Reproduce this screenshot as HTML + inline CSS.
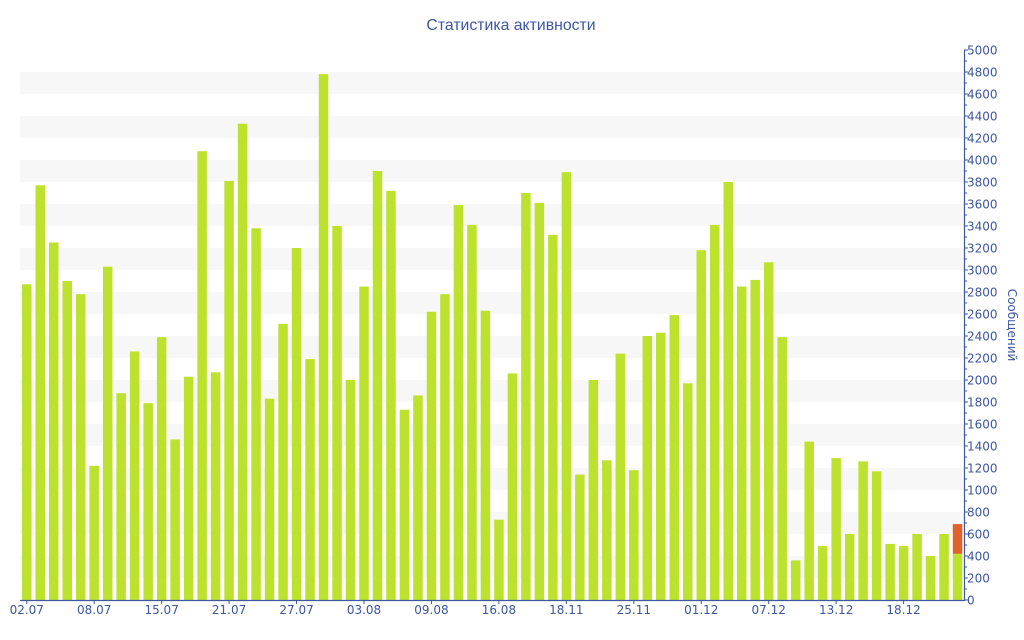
<!DOCTYPE html>
<html><head><meta charset="utf-8"><style>
html,body{margin:0;padding:0;background:#fff;}
svg{display:block;font-family:"DejaVu Sans","Liberation Sans",sans-serif;}
</style></head><body>
<svg id="c" width="1024" height="640" viewBox="0 0 1024 640" xmlns="http://www.w3.org/2000/svg">
<text x="511" y="30" text-anchor="middle" font-size="15.8" fill="#3d57a0" font-family="Liberation Sans, sans-serif">Статистика активности</text>
<g id="g"></g>
<text transform="translate(1008,325) rotate(90)" text-anchor="middle" font-size="12" fill="#3d57a0">Сообщений</text>
</svg>
<script>
var v=[2870,3770,3250,2900,2780,1220,3030,1880,2260,1790,2390,1460,2030,4080,2070,3810,4330,3380,1830,2510,3200,2190,4780,3400,2000,2850,3900,3720,1730,1860,2620,2780,3590,3410,2630,730,2060,3700,3610,3320,3890,1140,2000,1270,2240,1180,2400,2430,2590,1970,3180,3410,3800,2850,2910,3070,2390,360,1440,490,1290,600,1260,1170,510,490,600,400,600,690];
var labels=["02.07","08.07","15.07","21.07","27.07","03.08","09.08","16.08","18.11","25.11","01.12","07.12","13.12","18.12"];
function y(val){return 600-val*0.11;}
var s="";
for(var k=4800;k>=400;k-=400){s+='<rect x="20" y="'+y(k)+'" width="944" height="22" fill="#f7f7f7"/>';}
var sp=13.49;
for(var i=0;i<v.length;i++){
 var x=22+i*sp;
 var h=v[i]*0.11;
 if(i==69){
  var g=420*0.11;
  s+='<rect x="'+x+'" y="'+(600-g)+'" width="9.5" height="'+g+'" fill="#bde22e"/>';
  s+='<rect x="'+x+'" y="'+y(v[i])+'" width="9.5" height="'+(h-g)+'" fill="#e2622c"/>';
 } else s+='<rect x="'+x+'" y="'+y(v[i])+'" width="9.5" height="'+h+'" fill="#bde22e"/>';
}
s+='<line x1="20" y1="600.5" x2="964" y2="600.5" stroke="#3d57a0" stroke-width="1.2"/>';
s+='<line x1="964.5" y1="50" x2="964.5" y2="601" stroke="#3d57a0" stroke-width="1.2"/>';
for(var k=0;k<=5000;k+=100){
 var yy=y(k);
 s+='<line x1="964" y1="'+yy+'" x2="'+(k%200==0?968:967)+'" y2="'+yy+'" stroke="#3d57a0" stroke-width="1"/>';
 if(k%200==0)s+='<text x="967" y="'+(yy+4.5)+'" font-size="12" fill="#3d57a0">'+k+'</text>';
}
for(var j=0;j<labels.length;j++){
 var cx=22+j*5*sp+4.75;
 s+='<line x1="'+cx+'" y1="600" x2="'+cx+'" y2="604" stroke="#3d57a0"/>';
 s+='<text x="'+cx+'" y="614" text-anchor="middle" font-size="12" fill="#3d57a0">'+labels[j]+'</text>';
}
document.getElementById("g").innerHTML=s;
</script>
</body></html>
